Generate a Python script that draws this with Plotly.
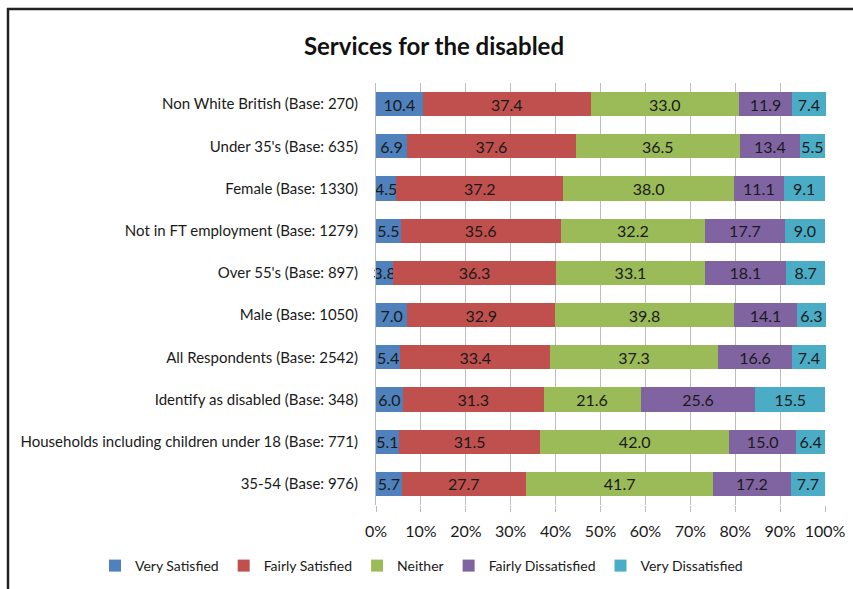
import plotly.graph_objects as go

categories = [
    "Non White British (Base: 270)",
    "Under 35's (Base: 635)",
    "Female (Base: 1330)",
    "Not in FT employment (Base: 1279)",
    "Over 55's (Base: 897)",
    "Male (Base: 1050)",
    "All Respondents (Base: 2542)",
    "Identify as disabled (Base: 348)",
    "Households including children under 18 (Base: 771)",
    "35-54 (Base: 976)",
]

very_satisfied = [10.4, 6.9, 4.5, 5.5, 3.8, 7.0, 5.4, 6.0, 5.1, 5.7]
fairly_satisfied = [37.4, 37.6, 37.2, 35.6, 36.3, 32.9, 33.4, 31.3, 31.5, 27.7]
neither = [33.0, 36.5, 38.0, 32.2, 33.1, 39.8, 37.3, 21.6, 42.0, 41.7]
fairly_dissatisfied = [11.9, 13.4, 11.1, 17.7, 18.1, 14.1, 16.6, 25.6, 15.0, 17.2]
very_dissatisfied = [7.4, 5.5, 9.1, 9.0, 8.7, 6.3, 7.4, 15.5, 6.4, 7.7]

tick_values = [0, 10, 20, 30, 40, 50, 60, 70, 80, 90, 100]
tick_labels = ["0%", "10%", "20%", "30%", "40%", "50%", "60%", "70%", "80%", "90%", "100%"]

series = [
    ("Very Satisfied", very_satisfied, "#4F81BD"),
    ("Fairly Satisfied", fairly_satisfied, "#C0504D"),
    ("Neither", neither, "#9BBB59"),
    ("Fairly Dissatisfied", fairly_dissatisfied, "#8064A2"),
    ("Very Dissatisfied", very_dissatisfied, "#4BACC6"),
]

W, H = 853, 589
X_MAX = 100.2  # rounded shares can sum to slightly over 100
L, T, B = 376, 83, 84
PW = round(449 * X_MAX / 100)
R = W - L - PW
FONT = "Lato, 'Open Sans', sans-serif"

fig = go.Figure()
for name, vals, color in series:
    fig.add_trace(go.Bar(
        name=name,
        y=categories,
        x=vals,
        orientation="h",
        marker=dict(color=color, line=dict(width=0)),
        text=[f"{v:.1f}" for v in vals],
        textposition="inside",
        insidetextanchor="middle",
        textangle=0,
        textfont=dict(family=FONT, size=16, color="#1a1a1a"),
        cliponaxis=False,
    ))

# pixel -> paper coordinate helpers
ph = H - T - B
def px_x(x):
    return (x - L) / PW
def px_y(y):
    return 1 - (y - T) / ph

# frame lines (top and left)
fig.add_shape(type="line", xref="paper", yref="paper",
              x0=px_x(7), x1=px_x(W + 5), y0=px_y(9), y1=px_y(9),
              line=dict(color="#222222", width=2.5))
fig.add_shape(type="line", xref="paper", yref="paper",
              x0=px_x(8), x1=px_x(8), y0=px_y(8), y1=px_y(H + 5),
              line=dict(color="#222222", width=2.5))

fig.update_layout(
    width=W, height=H,
    barmode="stack",
    bargap=0.43,
    margin=dict(l=L, r=R, t=T, b=B, autoexpand=False),
    paper_bgcolor="white",
    plot_bgcolor="white",
    uniformtext=dict(minsize=16, mode="show"),
    title=dict(text="<b>Services for the disabled</b>", x=434 / W, xanchor="center",
               y=1 - 47 / H, yanchor="middle",
               font=dict(family=FONT, size=24, color="#111111")),
    xaxis=dict(range=[0, X_MAX], tickvals=tick_values, ticktext=tick_labels,
               showgrid=True, gridcolor="#BDBDBD", gridwidth=1,
               zeroline=False, showline=False,
               ticks="outside", ticklen=6, tickcolor="#BDBDBD",
               ticklabelstandoff=6,
               tickfont=dict(family=FONT, size=16, color="#1a1a1a"),
               fixedrange=True),
    yaxis=dict(categoryorder="array", categoryarray=categories,
               autorange="reversed",
               showline=True, linecolor="#BDBDBD", linewidth=1,
               ticks="", ticklabelstandoff=14,
               tickfont=dict(family=FONT, size=15, color="#1a1a1a"),
               fixedrange=True),
    legend=dict(orientation="h", x=px_x(95), xanchor="left",
                y=px_y(566), yanchor="middle",
                font=dict(family=FONT, size=14, color="#1a1a1a"),
                itemwidth=30, traceorder="normal"),
    showlegend=True,
)

fig.write_html("out.html")
